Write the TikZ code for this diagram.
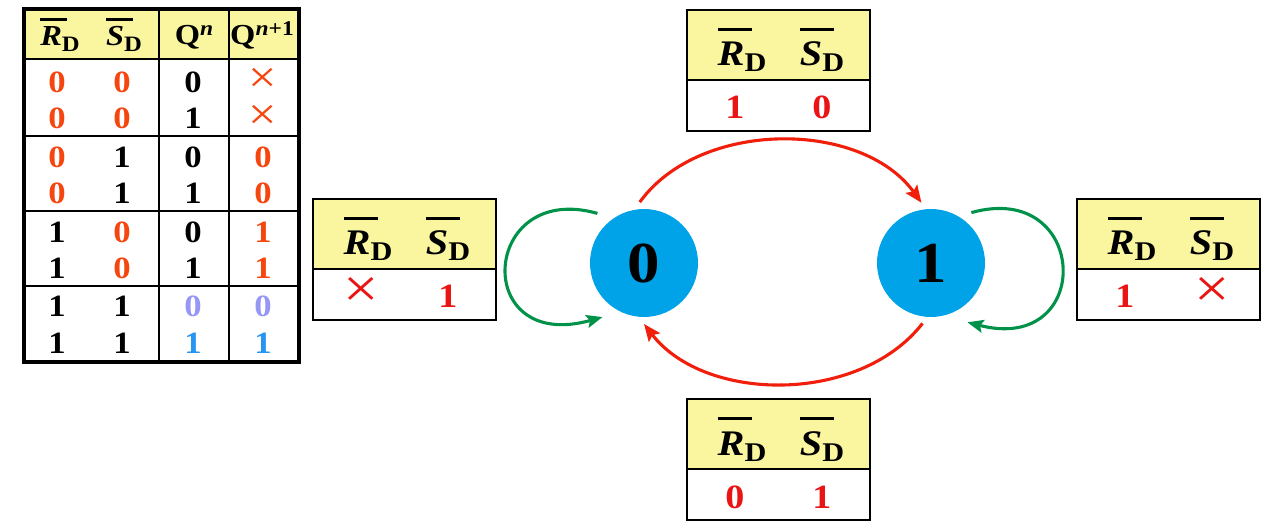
\documentclass[tikz,border=0pt]{standalone}
\usepackage{fontspec}
\setmainfont{Liberation Serif}[FakeStretch=1.12]
\usetikzlibrary{arrows.meta}
\definecolor{ored}{RGB}{245,70,15}
\definecolor{pblue}{RGB}{150,150,245}
\definecolor{lblue}{RGB}{40,150,240}
\definecolor{bred}{RGB}{235,20,20}
\definecolor{hdr}{RGB}{250,246,160}
\definecolor{cblue}{RGB}{0,162,232}
\definecolor{lgreen}{RGB}{0,146,72}
\definecolor{ared}{RGB}{240,30,10}
\newcommand\tsig[1]{\rlap{\rule[25pt]{27pt}{2.5pt}}\textit{#1}\raisebox{-6pt}{\fontsize{22}{22}\selectfont D}}
\newcommand\bsig[1]{\rlap{\rule[35pt]{34pt}{3pt}}\textit{#1}\raisebox{-6pt}{\fontsize{27}{27}\selectfont D}}
\newcommand\tcross{\scalebox{1.5}{\fontsize{30}{30}\selectfont ×}}
\tikzset{
  td/.style={font=\fontsize{31}{31}\selectfont\bfseries, anchor=base, inner sep=0pt},
  th/.style={font=\fontsize{29}{29}\selectfont\bfseries, anchor=base, inner sep=0pt},
  bh/.style={font=\fontsize{36}{36}\selectfont\bfseries, anchor=base, inner sep=0pt},
  bv/.style={font=\fontsize{34}{34}\selectfont\bfseries, anchor=base, inner sep=0pt, text=bred},
  bx/.style={font=\fontsize{56}{56}\selectfont, anchor=base, text height=24pt, text depth=0pt, inner sep=0pt, text=bred},
  tx/.style={anchor=base, text height=20pt, text depth=0pt, inner sep=0pt, text=ored},
  state/.style={circle, fill=cblue, minimum size=108pt, inner sep=0pt, outer sep=7pt,
    font=\fontsize{58}{58}\selectfont\bfseries},
  redarr/.style={draw=ared, line width=3.1pt, -{Stealth[length=17pt,width=14pt,inset=3pt]}},
  greenarr/.style={draw=lgreen, line width=3.1pt, -{Stealth[length=16pt,width=13pt,inset=3pt]}},
  thinline/.style={line width=1.6pt},
  boxline/.style={line width=2.6pt},
}
% name, x, y, style a, text a, style b, text b
\newcommand\statebox[7]{%
  \fill[hdr] (#2,#3) rectangle ++(183,70);
  \draw[thinline] (#2,#3+70) -- ++(183,0);
  \draw[boxline] (#2,#3) rectangle ++(183,121);
  \node[bh] (#1-r) at (#2+55,#3+56) {\bsig{R}};
  \node[bh] (#1-s) at (#2+135,#3+56) {\bsig{S}};
  \node[#4] (#1-a) at (#2+48,#3+109) {#5};
  \node[#6] (#1-b) at (#2+135,#3+109) {#7};
}
\begin{document}
\begin{tikzpicture}[x=1pt,y=-1pt]
\useasboundingbox (0,0) rectangle (1283,529);
% ---------- truth table ----------
\fill[hdr] (24,9) rectangle (299,59);
\foreach \yy in {59,136,211,286} \draw[thinline] (24,\yy) -- (299,\yy);
\foreach \xx in {159,229} \draw[thinline] (\xx,9) -- (\xx,362);
\draw[line width=3.5pt] (24,9) rectangle (299,362);
\node[th] (hR) at (60,46) {\tsig{R}};
\node[th] (hS) at (124,46) {\tsig{S}};
\node[th] (hQ) at (194,45) {Q\raisebox{9pt}{\fontsize{21}{21}\selectfont\textit{n}}};
\node[th] (hQ1) at (262,45) {Q\raisebox{9pt}{\fontsize{21}{21}\selectfont\textit{n}+1}};
\foreach \yy/\ca/\ta/\cb/\tb/\cc/\tc [count=\i] in {
  92.5/ored/0/ored/0/black/0,
  128.5/ored/0/ored/0/black/1,
  167.5/ored/0/black/1/black/0,
  203.5/ored/0/black/1/black/1,
  242.5/black/1/ored/0/black/0,
  278.5/black/1/ored/0/black/1,
  316.5/black/1/black/1/pblue/0,
  353.5/black/1/black/1/lblue/1}{
  \node[td,text=\ca] (t\i a) at (57,\yy) {\ta};
  \node[td,text=\cb] (t\i b) at (122,\yy) {\tb};
  \node[td,text=\cc] (t\i c) at (193,\yy) {\tc};
}
\node[tx] (t1d) at (263,93) {\tcross};
\node[tx] (t2d) at (263,130) {\tcross};
\foreach \yy/\cd/\td [count=\i from 3] in {
  167.5/ored/0, 203.5/ored/0, 242.5/ored/1, 278.5/ored/1,
  316.5/pblue/0, 353.5/lblue/1}{
  \node[td,text=\cd] (t\i d) at (263,\yy) {\td};
}
% ---------- condition boxes ----------
\statebox{bt}{687}{10}{bv}{1}{bv}{0}
\statebox{bl}{313}{199}{bx}{×}{bv}{1}
\statebox{br}{1077}{199}{bv}{1}{bx}{×}
\statebox{bb}{687}{399}{bv}{0}{bv}{1}
% ---------- state diagram ----------
\node[state] (s0) at (644,263) {0};
\node[state] (s1) at (931,263) {1};
\draw[redarr] (s0.94) .. controls +(60,-83) and +(-60,-83) .. (s1.99);
\draw[redarr] (s1.262) .. controls +(-63,81) and +(61,79) .. (s0.270);
\draw[greenarr] ([shift={(-5,-5)}]s0.133) .. controls +(-117,-33) and +(-132,37) .. ([shift={(-4,6)}]s0.232);
\draw[greenarr] ([shift={(2,-3)}]s1.51) .. controls +(118,-33) and +(128,33) .. ([shift={(5,7)}]s1.301);
\end{tikzpicture}
\end{document}
